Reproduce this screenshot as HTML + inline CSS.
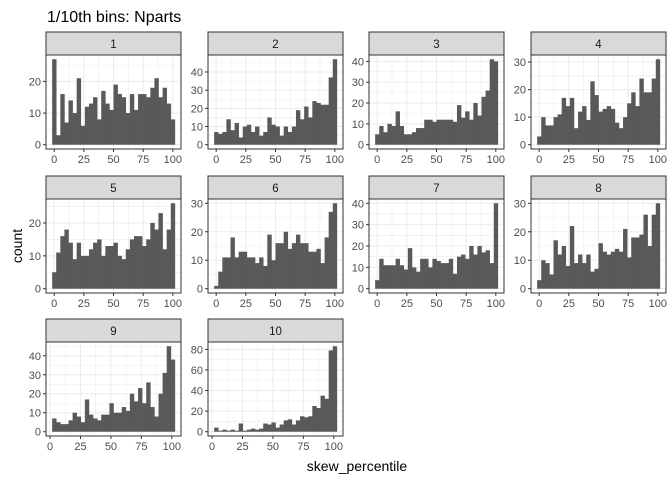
<!DOCTYPE html>
<html><head><meta charset="utf-8"><style>
body{margin:0;background:#fff;}
svg{display:block;font-family:"Liberation Sans",sans-serif;}
</style></head><body>
<svg id="chart" width="672" height="480">
<text x="47" y="22" font-size="16" fill="#000">1/10th bins: Nparts</text>
<text transform="translate(22,246) rotate(-90)" text-anchor="middle" font-size="14" fill="#000">count</text>
<text x="357" y="471" text-anchor="middle" font-size="14" fill="#000">skew_percentile</text>
</svg>
<script>
const panelLabels = ["1","2","3","4","5","6","7","8","9","10"];
const counts1 = [27,3,16,7,14,10,21,6,12,13,15,8,17,13,11,19,16,15,10,16,11,16,16,15,18,21,15,18,13,8];
const counts2 = [7,6,7,14,8,12,4,10,11,7,10,5,7,15,11,10,5,10,7,10,19,14,21,15,24,23,22,22,37,47];
const counts3 = [5,9,6,10,9,16,9,5,5,6,8,8,12,12,11,12,12,12,12,11,19,13,16,12,20,14,23,26,41,40];
const counts4 = [3,10,7,7,10,11,17,14,17,6,12,14,9,23,18,12,13,14,13,8,6,10,15,19,14,24,19,19,24,31];
const counts5 = [5,11,16,18,14,9,14,10,10,12,14,15,10,13,13,14,10,9,12,15,16,16,13,15,20,18,23,12,18,26];
const counts6 = [1,6,11,11,18,11,13,13,11,11,9,11,8,19,10,16,16,20,14,16,19,16,16,13,13,14,9,18,27,30];
const counts7 = [4,14,11,11,11,14,11,9,19,10,8,14,14,10,14,13,12,12,14,7,15,16,14,20,16,20,17,18,12,40];
const counts8 = [3,10,9,5,17,12,15,8,22,9,12,9,12,6,7,16,13,12,13,14,13,21,11,18,18,19,26,15,26,30];
const counts9 = [7,5,4,4,6,10,8,5,17,9,7,6,9,9,15,10,10,13,11,20,16,23,15,26,13,8,20,31,45,38];
const counts10 = [4,1,2,1,2,1,8,1,2,3,2,3,8,7,9,4,7,11,12,7,11,15,14,15,25,23,35,32,79,83];
const yTicks1 = [0,10,20];
const yTicks2 = [0,10,20,30,40];
const yTicks3 = [0,10,20,30,40];
const yTicks4 = [0,10,20,30];
const yTicks5 = [0,10,20];
const yTicks6 = [0,10,20,30];
const yTicks7 = [0,10,20,30,40];
const yTicks8 = [0,10,20,30];
const yTicks9 = [0,10,20,30,40];
const yTicks10 = [0,20,40,60,80];
const xTicks = [0,25,50,75,100];
const binStartA = -50/29, binWidthA = 100/29;
const binStartB = 1.7, binWidthB = 3.36;

const allCounts=[counts1,counts2,counts3,counts4,counts5,counts6,counts7,counts8,counts9,counts10];
const allTicks=[yTicks1,yTicks2,yTicks3,yTicks4,yTicks5,yTicks6,yTicks7,yTicks8,yTicks9,yTicks10];
const svg=document.getElementById('chart');
const NS='http://www.w3.org/2000/svg';
function mk(tag,attrs,parent){const e=document.createElementNS(NS,tag);for(const k in attrs)e.setAttribute(k,attrs[k]);(parent||svg).appendChild(e);return e;}
const colX=[46,208,369,531], rowY=[32,176,319], W=135, SH=23, PH=94;
allCounts.forEach((counts,p)=>{
  const col=p%4,row=Math.floor(p/4);
  const L=colX[col], ST=rowY[row], T=ST+SH, B=T+PH;
  const g=mk('g',{});
  
  
  const bs = p>=8?binStartB:binStartA, bw = p>=8?binWidthB:binWidthA;
  const xmin=bs, xmaxD=bs+bw*counts.length, ex=(xmaxD-xmin)*0.05;
  const x0=xmin-ex, x1=xmaxD+ex;
  const X=v=>L+(v-x0)/(x1-x0)*W;
  const mx=Math.max(...counts), y0=-0.05*mx, y1=1.05*mx;
  const Y=v=>B-(v-y0)/(y1-y0)*PH;
  mk('rect',{x:L,y:T,width:W,height:PH,fill:'#fff'},g);
  const yt=allTicks[p], step=yt[1]-yt[0];
  for(let v=yt[0]-step/2; v<=y1; v+=step/2){
    if(v<y0)continue;
    const major=Math.abs((v-yt[0])/step-Math.round((v-yt[0])/step))<1e-6;
    mk('line',{x1:L,x2:L+W,y1:Y(v),y2:Y(v),stroke:'#ebebeb','stroke-width':major?1:0.55},g);
  }
  for(let v=-12.5; v<=x1; v+=12.5){
    if(v<x0)continue;
    const major=Math.abs(v/25-Math.round(v/25))<1e-6;
    mk('line',{x1:X(v),x2:X(v),y1:T,y2:B,stroke:'#ebebeb','stroke-width':major?1:0.55},g);
  }
  counts.forEach((c,i)=>{
    const r=mk('rect',{x:X(bs+i*bw),y:Y(c),width:X(bs+(i+1)*bw)-X(bs+i*bw)+0.3,height:Y(0)-Y(c),fill:'#595959'},g);
    
    
  });
  mk('rect',{x:L,y:T,width:W,height:PH,fill:'none',stroke:'#333','stroke-width':1},g);
  const s=mk('rect',{x:L,y:ST,width:W,height:SH,fill:'#d9d9d9',stroke:'#333','stroke-width':1},g);
  
  
  const st=mk('text',{x:L+W/2,y:ST+16,'text-anchor':'middle','font-size':11.5,fill:'#1a1a1a'},g);
  st.textContent=panelLabels[p];
  
  
  yt.forEach(v=>{
    if(v<y0||v>y1)return;
    mk('line',{x1:L-3,x2:L,y1:Y(v),y2:Y(v),stroke:'#333'},g);
    const t=mk('text',{x:L-5,y:Y(v)+4,'text-anchor':'end','font-size':11,fill:'#4d4d4d'},g);
    t.textContent=v;
    
    
  });
  xTicks.forEach(v=>{
    mk('line',{x1:X(v),x2:X(v),y1:B,y2:B+3,stroke:'#333'},g);
    const t=mk('text',{x:X(v),y:B+14,'text-anchor':'middle','font-size':11,fill:'#4d4d4d'},g);
    t.textContent=v;
    
    
  });
});
</script>
</body></html>
